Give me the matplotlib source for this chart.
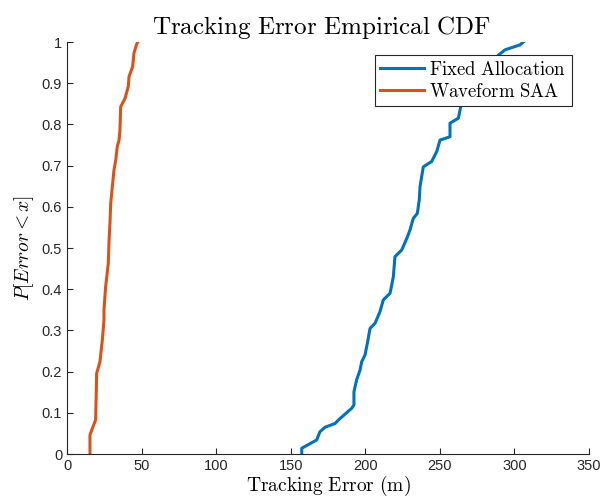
import matplotlib

matplotlib.use("Agg")
import matplotlib.pyplot as plt

# values (error in m, cumulative probability)
fixed_err = [157.4, 157.4, 167.4, 169.6, 173.0, 179.7, 183.0, 190.9, 192.4, 192.4,
             194.2, 196.5, 197.6, 199.8, 201.4, 203.2, 206.5, 209.9, 212.1, 216.6,
             218.8, 219.9, 224.4, 227.8, 230.0, 232.2, 234.9, 236.2, 236.7, 238.9,
             244.5, 247.9, 250.1, 256.8, 256.8, 262.4, 264.0, 270.0, 278.0, 285.0,
             289.2, 293.7, 300.4, 303.7, 306.0]
fixed_p = [0.0, 0.014, 0.034, 0.054, 0.065, 0.074, 0.086, 0.111, 0.119, 0.151,
           0.180, 0.204, 0.224, 0.240, 0.269, 0.305, 0.317, 0.346, 0.374, 0.390,
           0.430, 0.479, 0.495, 0.523, 0.544, 0.572, 0.584, 0.617, 0.649, 0.697,
           0.710, 0.734, 0.762, 0.770, 0.803, 0.815, 0.843, 0.880, 0.920, 0.950,
           0.968, 0.981, 0.989, 0.993, 1.0]

saa_err = [15.4, 15.4, 17.0, 19.2, 19.9, 22.1, 23.7, 24.8, 24.8, 25.9, 27.7, 28.2,
           28.8, 29.3, 30.4, 31.5, 32.7, 33.7, 34.9, 35.5, 36.0, 38.9, 41.1, 41.6,
           44.0, 44.9, 46.7, 47.5]
saa_p = [0.0, 0.046, 0.062, 0.083, 0.196, 0.224, 0.277, 0.325, 0.350, 0.406, 0.463,
         0.519, 0.560, 0.608, 0.649, 0.689, 0.714, 0.746, 0.762, 0.786, 0.843, 0.863,
         0.892, 0.916, 0.940, 0.973, 0.995, 1.0]

x_ticks = [0, 50, 100, 150, 200, 250, 300, 350]
y_ticks = [0, 0.1, 0.2, 0.3, 0.4, 0.5, 0.6, 0.7, 0.8, 0.9, 1]
y_labels = ["0", "0.1", "0.2", "0.3", "0.4", "0.5", "0.6", "0.7", "0.8", "0.9", "1"]

plt.rcParams["font.family"] = ["Liberation Sans", "DejaVu Sans"]
plt.rcParams["mathtext.fontset"] = "cm"

axis_col = "#262626"

fig = plt.figure(figsize=(6.03, 5.01), dpi=100)
ax = fig.add_axes([67 / 603, 47 / 501, 522 / 603, 412 / 501])

ax.plot(fixed_err, fixed_p, color="#0072BD", lw=2.2, label=r"$\mathrm{Fixed\ Allocation}$")
ax.plot(saa_err, saa_p, color="#D95319", lw=2.2, label=r"$\mathrm{Waveform\ SAA}$")

ax.set_xlim(0, 350)
ax.set_ylim(0, 1)
ax.set_xticks(x_ticks)
ax.set_yticks(y_ticks)
ax.set_yticklabels(y_labels)
ax.tick_params(direction="in", length=4, width=0.8, colors=axis_col, labelsize=10.5,
               labelcolor=axis_col)
ax.spines["top"].set_visible(False)
ax.spines["right"].set_visible(False)
for s in ("left", "bottom"):
    ax.spines[s].set_color(axis_col)
    ax.spines[s].set_linewidth(0.8)

ax.set_title(r"$\mathrm{Tracking\ Error\ Empirical\ CDF}$", fontsize=18, pad=6, x=0.487)
ax.set_xlabel(r"$\mathrm{Tracking\ Error\ (m)}$", fontsize=14, labelpad=1)
ax.set_ylabel(r"$P[Error<x]$", fontsize=14, labelpad=4)

leg = ax.legend(loc="upper right", bbox_to_anchor=(0.967, 0.968), borderaxespad=0,
                fontsize=13.5, fancybox=False, framealpha=1, edgecolor=axis_col,
                handlelength=2.3, handletextpad=0.3, borderpad=0.3, labelspacing=0.2)
leg.get_frame().set_linewidth(0.8)

fig.savefig("out.png", dpi=100)
